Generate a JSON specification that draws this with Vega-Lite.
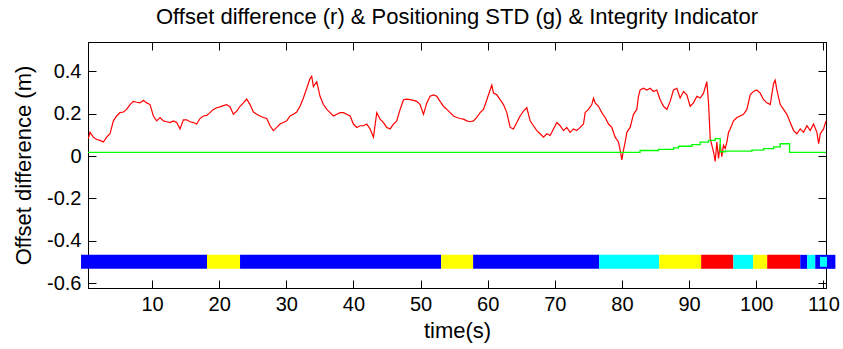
{
  "$schema": "https://vega.github.io/schema/vega-lite/v6.json",
  "width": 738,
  "height": 246,
  "autosize": "none",
  "padding": {"left": 88, "top": 42, "right": 17, "bottom": 61},
  "background": "white",
  "config": {
    "view": {"stroke": "black", "strokeWidth": 1},
    "font": "Liberation Sans",
    "axis": {
      "domainColor": "black", "tickColor": "black", "labelColor": "black", "titleColor": "black",
      "labelFont": "Liberation Sans", "titleFont": "Liberation Sans",
      "labelFontSize": 20, "titleFontSize": 22, "titleFontWeight": "normal",
      "grid": false, "tickSize": -8, "domainWidth": 1, "tickWidth": 1
    }
  },
  "title": {"text": "Offset difference (r) & Positioning STD (g) & Integrity Indicator", "fontSize": 22, "fontWeight": "normal", "color": "black", "font": "Liberation Sans", "offset": 13},
  "datasets": {
    "offset": [
      {"t":0.50,"v":0.082},{"t":0.75,"v":0.112},{"t":1.24,"v":0.089},{"t":1.74,"v":0.078},{"t":2.24,"v":0.074},{"t":2.74,"v":0.066},{"t":3.23,"v":0.089},{"t":3.73,"v":0.105},{"t":4.23,"v":0.166},{"t":4.72,"v":0.189},
      {"t":5.22,"v":0.205},{"t":5.72,"v":0.208},{"t":6.21,"v":0.220},{"t":6.71,"v":0.243},{"t":7.21,"v":0.258},{"t":7.70,"v":0.254},{"t":8.20,"v":0.251},{"t":8.70,"v":0.263},{"t":9.19,"v":0.251},{"t":9.69,"v":0.243},
      {"t":10.19,"v":0.189},{"t":10.68,"v":0.166},{"t":11.18,"v":0.182},{"t":11.68,"v":0.166},{"t":12.17,"v":0.162},{"t":12.67,"v":0.158},{"t":13.17,"v":0.166},{"t":13.66,"v":0.158},{"t":14.16,"v":0.128},{"t":14.66,"v":0.171},
      {"t":15.15,"v":0.171},{"t":15.65,"v":0.162},{"t":16.15,"v":0.158},{"t":16.64,"v":0.151},{"t":17.14,"v":0.177},{"t":17.64,"v":0.189},{"t":18.14,"v":0.192},{"t":18.63,"v":0.205},{"t":19.13,"v":0.220},{"t":19.63,"v":0.228},
      {"t":20.12,"v":0.232},{"t":20.62,"v":0.238},{"t":21.12,"v":0.243},{"t":21.61,"v":0.232},{"t":22.11,"v":0.197},{"t":22.61,"v":0.212},{"t":23.10,"v":0.235},{"t":23.60,"v":0.251},{"t":24.10,"v":0.269},{"t":24.59,"v":0.243},
      {"t":25.09,"v":0.208},{"t":25.59,"v":0.197},{"t":26.08,"v":0.189},{"t":26.58,"v":0.182},{"t":27.08,"v":0.177},{"t":27.57,"v":0.143},{"t":28.07,"v":0.120},{"t":28.57,"v":0.135},{"t":29.06,"v":0.151},{"t":29.56,"v":0.158},
      {"t":30.06,"v":0.166},{"t":30.55,"v":0.189},{"t":31.05,"v":0.197},{"t":31.55,"v":0.208},{"t":32.04,"v":0.235},{"t":32.54,"v":0.274},{"t":33.04,"v":0.320},{"t":33.53,"v":0.366},{"t":33.78,"v":0.377},{"t":34.03,"v":0.328},
      {"t":34.53,"v":0.351},{"t":35.02,"v":0.282},{"t":35.52,"v":0.243},{"t":36.02,"v":0.220},{"t":36.52,"v":0.205},{"t":37.01,"v":0.189},{"t":37.51,"v":0.197},{"t":38.01,"v":0.205},{"t":38.50,"v":0.205},{"t":39.00,"v":0.197},
      {"t":39.50,"v":0.189},{"t":39.99,"v":0.151},{"t":40.49,"v":0.135},{"t":40.99,"v":0.143},{"t":41.48,"v":0.143},{"t":41.98,"v":0.151},{"t":42.48,"v":0.128},{"t":42.98,"v":0.089},{"t":43.47,"v":0.205},{"t":43.97,"v":0.174},
      {"t":44.47,"v":0.158},{"t":44.96,"v":0.135},{"t":45.46,"v":0.128},{"t":45.96,"v":0.151},{"t":46.45,"v":0.166},{"t":46.95,"v":0.220},{"t":47.45,"v":0.266},{"t":47.94,"v":0.269},{"t":48.44,"v":0.266},{"t":48.94,"v":0.263},
      {"t":49.43,"v":0.258},{"t":49.93,"v":0.243},{"t":50.43,"v":0.197},{"t":50.93,"v":0.251},{"t":51.42,"v":0.282},{"t":51.92,"v":0.289},{"t":52.42,"v":0.282},{"t":52.91,"v":0.258},{"t":53.41,"v":0.235},{"t":53.91,"v":0.220},
      {"t":54.40,"v":0.205},{"t":54.90,"v":0.189},{"t":55.40,"v":0.182},{"t":55.89,"v":0.177},{"t":56.39,"v":0.174},{"t":56.89,"v":0.166},{"t":57.38,"v":0.162},{"t":57.88,"v":0.166},{"t":58.38,"v":0.182},{"t":58.87,"v":0.205},
      {"t":59.37,"v":0.220},{"t":59.87,"v":0.266},{"t":60.36,"v":0.312},{"t":60.61,"v":0.335},{"t":60.86,"v":0.297},{"t":61.36,"v":0.289},{"t":61.85,"v":0.266},{"t":62.35,"v":0.243},{"t":62.85,"v":0.205},{"t":63.34,"v":0.135},
      {"t":63.84,"v":0.128},{"t":64.34,"v":0.158},{"t":64.83,"v":0.189},{"t":65.33,"v":0.212},{"t":65.83,"v":0.228},{"t":66.32,"v":0.166},{"t":66.82,"v":0.143},{"t":67.32,"v":0.120},{"t":67.81,"v":0.105},{"t":68.31,"v":0.089},
      {"t":68.81,"v":0.105},{"t":69.30,"v":0.097},{"t":69.80,"v":0.128},{"t":70.30,"v":0.158},{"t":70.79,"v":0.143},{"t":71.29,"v":0.120},{"t":71.78,"v":0.135},{"t":72.28,"v":0.112},{"t":72.78,"v":0.128},{"t":73.27,"v":0.120},
      {"t":73.77,"v":0.135},{"t":74.27,"v":0.151},{"t":74.52,"v":0.205},{"t":75.01,"v":0.220},{"t":75.51,"v":0.243},{"t":75.76,"v":0.274},{"t":76.01,"v":0.251},{"t":76.50,"v":0.235},{"t":77.00,"v":0.205},{"t":77.50,"v":0.182},
      {"t":77.99,"v":0.151},{"t":78.49,"v":0.135},{"t":78.99,"v":0.089},{"t":79.48,"v":0.066},{"t":79.73,"v":0.028},{"t":79.98,"v":-0.018},{"t":80.23,"v":0.028},{"t":80.48,"v":0.066},{"t":80.73,"v":0.112},{"t":81.22,"v":0.135},
      {"t":81.72,"v":0.197},{"t":82.22,"v":0.220},{"t":82.46,"v":0.282},{"t":82.71,"v":0.312},{"t":83.21,"v":0.320},{"t":83.71,"v":0.312},{"t":84.20,"v":0.320},{"t":84.70,"v":0.305},{"t":85.20,"v":0.312},{"t":85.69,"v":0.266},
      {"t":86.19,"v":0.235},{"t":86.69,"v":0.220},{"t":87.18,"v":0.258},{"t":87.68,"v":0.312},{"t":88.18,"v":0.320},{"t":88.67,"v":0.274},{"t":89.17,"v":0.305},{"t":89.67,"v":0.289},{"t":90.16,"v":0.235},{"t":90.66,"v":0.251},
      {"t":91.16,"v":0.282},{"t":91.66,"v":0.274},{"t":92.15,"v":0.297},{"t":92.65,"v":0.351},{"t":92.90,"v":0.251},{"t":93.15,"v":0.082},{"t":93.39,"v":0.051},{"t":93.64,"v":0.020},{"t":93.89,"v":-0.026},{"t":94.14,"v":0.066},
      {"t":94.39,"v":-0.011},{"t":94.64,"v":0.058},{"t":94.88,"v":-0.003},{"t":95.13,"v":0.051},{"t":95.38,"v":0.035},{"t":95.63,"v":0.066},{"t":95.88,"v":0.112},{"t":96.13,"v":0.128},{"t":96.62,"v":0.166},{"t":97.12,"v":0.182},
      {"t":97.62,"v":0.189},{"t":98.11,"v":0.197},{"t":98.61,"v":0.220},{"t":99.11,"v":0.289},{"t":99.60,"v":0.305},{"t":100.10,"v":0.312},{"t":100.60,"v":0.297},{"t":101.10,"v":0.266},{"t":101.59,"v":0.251},{"t":102.09,"v":0.243},
      {"t":102.59,"v":0.343},{"t":102.83,"v":0.358},{"t":103.08,"v":0.312},{"t":103.58,"v":0.243},{"t":104.08,"v":0.220},{"t":104.57,"v":0.197},{"t":105.07,"v":0.158},{"t":105.57,"v":0.120},{"t":106.06,"v":0.105},{"t":106.56,"v":0.128},
      {"t":107.06,"v":0.112},{"t":107.56,"v":0.143},{"t":108.05,"v":0.120},{"t":108.55,"v":0.151},{"t":109.05,"v":0.112},{"t":109.30,"v":0.058},{"t":109.55,"v":0.105},{"t":110.04,"v":0.128},{"t":110.40,"v":0.166}
    ],
    "std": [
      {"t":0.45,"v":0.017},{"t":82.7,"v":0.026},{"t":85.45,"v":0.031},{"t":87.68,"v":0.038},{"t":88.43,"v":0.046},{"t":90.41,"v":0.054},{"t":91.66,"v":0.066},{"t":92.9,"v":0.074},{"t":93.89,"v":0.082},{"t":94.64,"v":0.02},{"t":95.38,"v":0.023},{"t":99.36,"v":0.028},{"t":101.1,"v":0.035},{"t":102.6,"v":0.043},{"t":103.58,"v":0.058},{"t":104.97,"v":0.017},{"t":110.4,"v":0.017}
    ],
    "integrity": [
      {"start":-0.59,"end":18.18,"level":"0"},{"start":18.18,"end":23.1,"level":"2"},{"start":23.1,"end":53.06,"level":"0"},{"start":53.06,"end":57.83,"level":"2"},{"start":57.83,"end":76.6,"level":"0"},{"start":76.6,"end":85.55,"level":"1"},{"start":85.55,"end":91.8,"level":"2"},{"start":91.8,"end":96.6,"level":"3"},{"start":96.6,"end":99.55,"level":"1"},{"start":99.55,"end":101.64,"level":"2"},{"start":101.64,"end":106.56,"level":"3"},{"start":106.56,"end":107.6,"level":"0"},{"start":107.6,"end":108.8,"level":"1"},{"start":108.8,"end":111.8,"level":"0"}
    ],
    "inset": [
      {"start":109.5,"end":110.55,"level":"1"}
    ]
  },
  "resolve": {"axis": {"x": "independent", "y": "independent"}},
  "layer": [
    {
      "data": {"name": "offset"},
      "mark": {"type": "line", "color": "#ff0000", "strokeWidth": 1.2},
      "encoding": {
        "x": {"field": "t", "type": "quantitative", "scale": {"domain": [0.45, 110.4], "nice": false, "zero": false},
              "axis": {"orient": "bottom", "values": [10,20,30,40,50,60,70,80,90,100,110], "format": "d", "title": "time(s)", "labelPadding": 14, "titlePadding": 6}},
        "y": {"field": "v", "type": "quantitative", "scale": {"domain": [-0.6, 0.515], "nice": false, "zero": false},
              "axis": {"orient": "left", "values": [-0.6,-0.4,-0.2,0,0.2,0.4], "labelExpr": "datum.value == 0 ? '0' : replace(format(datum.value, '.1f'), '−', '-')", "title": "Offset difference (m)", "labelPadding": 15, "titlePadding": 11}}
      }
    },
    {
      "data": {"name": "std"},
      "mark": {"type": "line", "color": "#00ff00", "strokeWidth": 1.3, "interpolate": "step-after"},
      "encoding": {
        "x": {"field": "t", "type": "quantitative", "scale": {"domain": [0.45, 110.4], "nice": false, "zero": false},
              "axis": {"orient": "top", "values": [10,20,30,40,50,60,70,80,90,100,110], "labels": false, "title": null}},
        "y": {"field": "v", "type": "quantitative", "scale": {"domain": [-0.6, 0.515], "nice": false, "zero": false},
              "axis": {"orient": "right", "values": [-0.6,-0.4,-0.2,0,0.2,0.4], "labels": false, "title": null}}
      }
    },
    {
      "data": {"name": "integrity"},
      "mark": {"type": "bar", "size": 14},
      "encoding": {
        "x": {"field": "start", "type": "quantitative", "axis": null},
        "x2": {"field": "end"},
        "y": {"datum": -0.5, "type": "quantitative", "axis": null},
        "color": {"field": "level", "type": "nominal", "scale": {"domain": ["0","1","2","3"], "range": ["#0000ff","#00ffff","#ffff00","#ff0000"]}, "legend": null}
      }
    },
    {
      "data": {"name": "inset"},
      "mark": {"type": "bar", "size": 10},
      "encoding": {
        "x": {"field": "start", "type": "quantitative", "axis": null},
        "x2": {"field": "end"},
        "y": {"datum": -0.5, "type": "quantitative", "axis": null},
        "color": {"field": "level", "type": "nominal", "scale": {"domain": ["0","1","2","3"], "range": ["#0000ff","#00ffff","#ffff00","#ff0000"]}, "legend": null}
      }
    }
  ]
}
